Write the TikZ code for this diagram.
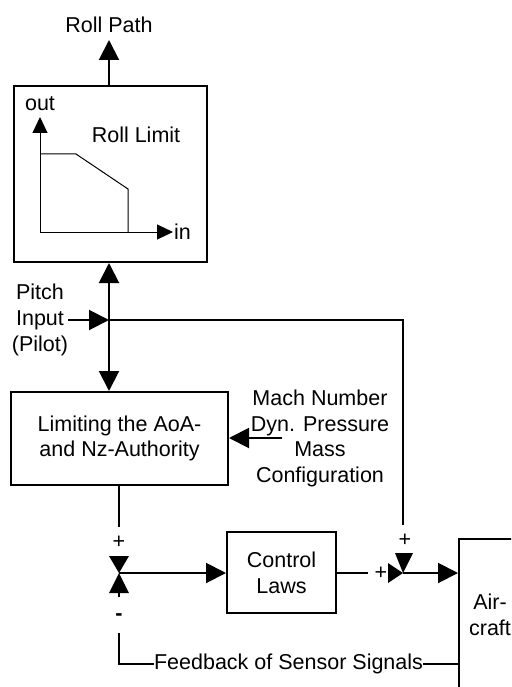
\documentclass[tikz,border=0pt]{standalone}
\usepackage{fontspec}
\setmainfont{Liberation Sans}
\usetikzlibrary{arrows.meta}
\tikzset{
  blk/.style={draw, line width=2pt, inner sep=0pt, align=center},
  lbl/.style={inner sep=0pt, align=center},
  conn/.style={line width=2pt},
  arr/.style={conn, -{Triangle[length=20pt,width=20pt]}},
  thinline/.style={line width=1pt},
  thinarr/.style={thinline, -{Triangle[length=16pt,width=15pt]}},
}
\begin{document}
\begin{tikzpicture}[x=1pt,y=-1pt,font=\fontsize{21.5}{25.8}\selectfont]
\clip (0,0) rectangle (511,687);
\fill[white] (0,0) rectangle (511,687);

% coordinates
\coordinate (pj) at (109,320);
\coordinate (rptip) at (109,40);
\coordinate (corner) at (403,320);
\coordinate (s2top) at (403,525);
\coordinate (s1) at (119,573);
\coordinate (s1a) at (119,527);
\coordinate (s1b) at (119,593);
\coordinate (s1c) at (119,597);
\coordinate (s1d) at (119,633);
\coordinate (fbcorner) at (119,664);
\coordinate (s2) at (403,573);
\coordinate (clout) at (368,573);
\coordinate (machin) at (282,438);
\coordinate (org) at (40,232);
\coordinate (ytip) at (40,117);
\coordinate (xtip) at (173,232);

% blocks
\node[blk, minimum width=193pt, minimum height=176pt] (rl) at (110.5,174) {};
\node[blk, minimum width=217pt, minimum height=93pt] (lim) at (119.5,438.5) {Limiting the AoA-\\and Nz-Authority};
\node[blk, minimum width=109pt, minimum height=81pt] (cl) at (281.5,572.5) {Control\\Laws};
\node[blk, minimum width=62pt, minimum height=152pt] (ac) at (490,615) {Air-\\craft};

% labels
\node[lbl] (rollpath) at (109,25) {Roll Path};
\node[lbl] (rolllimit) at (136,135) {Roll Limit};
\node[lbl] (out) at (40,104) {out};
\node[lbl, anchor=west] (in) at (174,232) {in};
\node[lbl] (pitch) at (40,320) {Pitch\\Input\\(Pilot)};
\node[lbl] (mach) at (320,438.5) {Mach Number\\Dyn. Pressure\\Mass\\Configuration};
\node[lbl] (fb) at (288.5,664) {Feedback of Sensor Signals};
\node[lbl] (p1) at (119,542) {+};
\node[lbl] (m1) at (119,617) {\bfseries -};
\node[lbl] (p2) at (381,573) {+};
\node[lbl] (p3) at (405,540) {+};

% roll limit characteristic
\draw[thinarr] (org) -- (ytip);
\draw[thinarr] (org) -- (xtip);
\draw[thinline] (40,154) -- (76,154) -- (128,189) -- (128,232);

% connectors
\draw[arr] (rl.north -| pj) -- (rptip);
\draw[arr] (pitch.east |- pj) -- (pj);
\draw[arr] (pj) -- (rl.south -| pj);
\draw[arr] (pj) -- (lim.north -| pj);
\draw[conn] (pj) -- (corner) -- (s2top);
\draw[arr] (machin) -- (lim.east |- machin);
\draw[conn] (lim.south -| s1) -- (s1a);
\draw[arr] (s1) -- (cl.west |- s1);
\draw[conn] (s1b) -- (s1c);
\draw[conn] (s1d) -- (fbcorner) -- (fb.west);
\draw[conn] (fb.east) -- (fb.east -| ac.west);
\draw[conn] (cl.east |- s2) -- (clout);
\draw[arr] (s2) -- (ac.west |- s2);

% summing junctions
\fill[shift={(s1)}] (-10,-17) -- (10,-17) -- (0,0) -- cycle;
\fill[shift={(s1)}] (-10,20) -- (10,20) -- (0,0) -- cycle;
\fill[shift={(s2)}] (-8,-20) -- (10,-20) -- (0,0) -- cycle;
\fill[shift={(s2)}] (-15,-10) -- (-15,10) -- (0,0) -- cycle;
\end{tikzpicture}
\end{document}
